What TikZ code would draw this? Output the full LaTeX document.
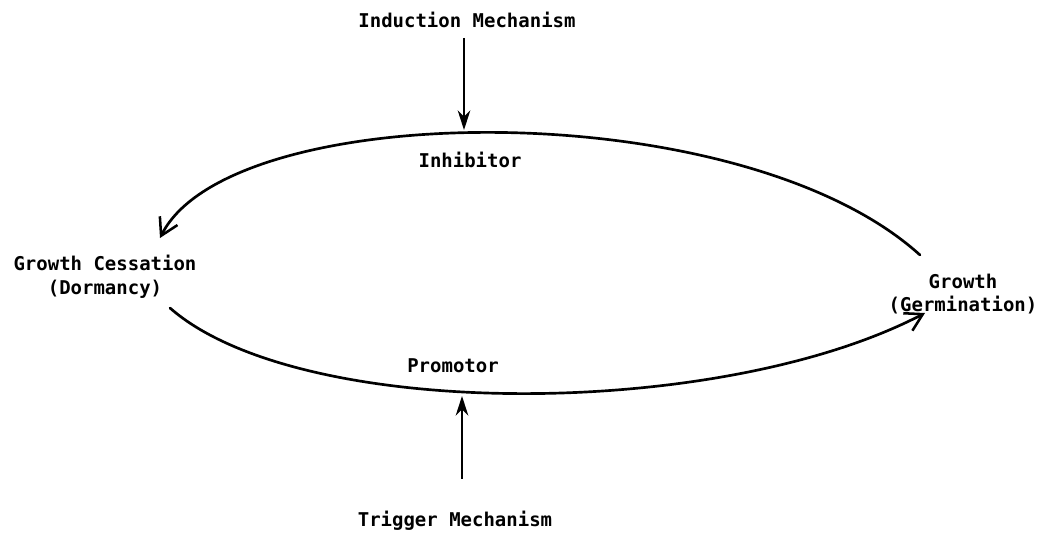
\documentclass[tikz,border=0pt]{standalone}
\usepackage{fontspec}
\setmonofont{DejaVu Sans Mono}
\usetikzlibrary{arrows.meta,calc}

\begin{document}
\begin{tikzpicture}[x=0.025cm, y=-0.025cm,
    lbl/.style={font=\ttfamily\bfseries\fontsize{13.5}{17}\selectfont, align=center, inner sep=1pt},
    loop/.style={line width=1.9pt, line cap=round},
    push/.style={line width=1.3pt, -{Stealth[length=14pt, width=9pt]}}]
    \useasboundingbox (0,0) rectangle (1037,538);

    % texts
    \node[lbl] (ind) at (467,20) {Induction Mechanism};
    \node[lbl] (inh) at (470,160) {Inhibitor};
    \node[lbl] (ces) at (105,277) {Growth Cessation\\(Dormancy)};
    \node[lbl] (grw) at (963,294) {Growth\\(Germination)};
    \node[lbl] (pro) at (453,366) {Promotor};
    \node[lbl] (trg) at (455,521) {Trigger Mechanism};

    % ends of the two arcs
    \coordinate (upR) at (920,255);
    \coordinate (upL) at (160,238);
    \coordinate (upM) at (464,130);
    \coordinate (loL) at (170,308);
    \coordinate (loR) at (925,313);
    \coordinate (loM) at (462,396);

    % Inhibitor arc, Growth -> Cessation
    \draw[loop, -{Straight Barb[length=12pt, width=14pt, line width=1.8pt]}]
        (upR) .. controls (740,92) and (230,98) .. (upL);
    % Promotor arc, Cessation -> Growth
    \draw[loop, -{Straight Barb[length=12pt, width=14pt, line width=1.8pt]}]
        (loL) .. controls (300,422) and (720,420) .. (loR);

    % the two mechanisms
    \draw[push, shorten <=6pt] (ind.south -| upM) -- (upM);
    \draw[push, shorten <=22pt] (trg.north -| loM) -- (loM);
\end{tikzpicture}
\end{document}
